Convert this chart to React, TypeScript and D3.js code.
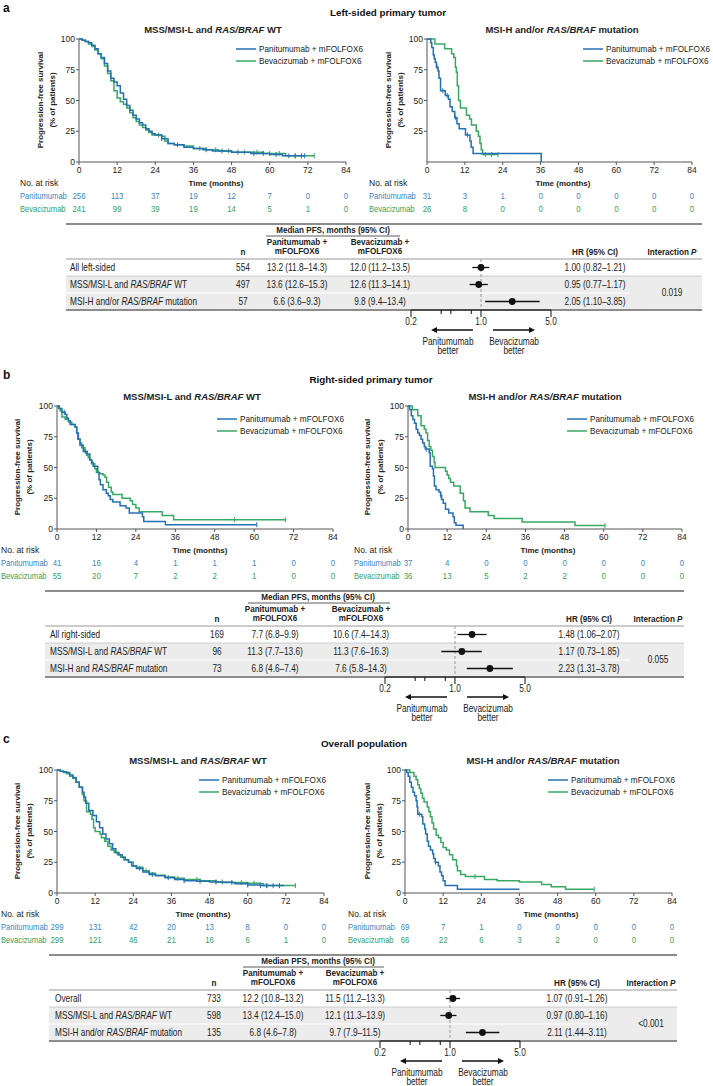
import React from 'react';
import * as d3 from 'd3';

type Pt = [number, number];

// ---------- shared ticks ----------
const timeTicks = [0, 12, 24, 36, 48, 60, 72, 84];
const survTicks = [0, 25, 50, 75, 100];
const hrMajor = [0.2, 1.0, 5.0];
const hrMinor = [0.4, 0.5, 0.8];

// ---------- Panel a: left-sided ----------
const aL_pan: Pt[] = [[0,100],[1,99],[2,98],[3,97],[4,95],[5,92],[6,88],[7,85],[8,80],[9,74],[10,68],[11,65],[12,62],[13,56],[14,51],[15,46],[16,42],[17,38],[18,35],[19,32],[20,30],[21,27],[22,25],[23,23],[24,22],[26,19],[28,15],[30,14],[33,12],[36,11],[39,10],[42,9],[48,8],[54,7],[60,6],[64,5],[71,5]];
const aL_bev: Pt[] = [[0,100],[1,99],[2,98],[3,96],[4,94],[5,91],[6,88],[7,84],[8,78],[9,72],[10,66],[11,58],[12,52],[13,49],[14,47],[15,44],[16,40],[17,36],[18,33],[19,30],[20,28],[21,26],[22,24],[23,22],[26,21],[27,17],[28,15],[30,14],[33,13],[36,11],[40,10],[44,9],[48,8],[58,7],[65,5],[74,5]];
const aL_panC = [26, 31, 40, 45, 50, 55, 58, 62, 66, 68, 70, 71];
const aL_bevC = [25, 38, 43, 47, 52, 56, 60, 63, 68, 74];
const aR_pan: Pt[] = [[0,100],[1.2,97],[1.5,93],[2,87],[2.3,84],[2.6,81],[3,77],[3.5,74],[3.8,68],[4.3,58],[5.8,54],[6.8,51],[7.3,45],[8,41],[8.8,36],[9.5,31],[10.2,27],[12.2,22],[13.6,17],[14,12],[14.6,7],[36.2,0]];
const aR_bev: Pt[] = [[0,100],[2.5,96],[5.6,92],[7.8,88],[8.5,85],[9,77],[9.3,73],[9.6,62],[10,50],[10.6,44],[12.5,38],[13.5,35],[14.1,30],[15.6,25],[16.3,21],[16.8,15],[17.2,10],[17.6,6],[22.5,6]];
const aR_panC = [3.2, 5, 6.4, 9.1, 12.8];
const aR_bevC = [18.5, 20.5, 22.5];
const aL_riskPan = [256, 113, 37, 19, 12, 7, 0, 0];
const aL_riskBev = [241, 99, 39, 19, 14, 5, 1, 0];
const aR_riskPan = [31, 3, 1, 0, 0, 0, 0, 0];
const aR_riskBev = [26, 8, 0, 0, 0, 0, 0, 0];
const aRows = ['All left-sided', 'MSS/MSI-L and *RAS/BRAF* WT', 'MSI-H and/or *RAS/BRAF* mutation'];
const aN = [554, 497, 57];
const aPanMed = ['13.2 (11.8–14.3)', '13.6 (12.6–15.3)', '6.6 (3.6–9.3)'];
const aBevMed = ['12.0 (11.2–13.5)', '12.6 (11.3–14.1)', '9.8 (9.4–13.4)'];
const aHR = [1.00, 0.95, 2.05];
const aLo = [0.82, 0.77, 1.10];
const aHi = [1.21, 1.17, 3.85];

// ---------- Panel b: right-sided ----------
const bL_pan: Pt[] = [[0,100],[0.7,98],[1.5,95],[2.5,93],[3,90],[3.5,88],[4,85],[5.5,83],[6,78],[6.5,73],[7,68],[8,63],[9.2,61],[10,56],[10.6,54],[11,51],[12.4,46],[12.8,40],[13.2,36],[14,32],[15,29],[15.6,27],[16.2,24],[17,22],[19.2,19],[21,17],[22,13],[26,10],[26.4,6],[33,3.5],[60.8,3.5]];
const bL_bev: Pt[] = [[0,100],[0.5,98],[1,96],[1.5,91],[2.5,89],[3.5,87],[4.5,85],[5.5,83],[6,78],[6.3,73],[7,70],[7.5,66],[8.5,63],[9,60],[9.5,58],[10,56],[10.5,53],[11.5,49],[12,46],[13,45],[14,44],[14.6,42],[15.1,38],[15.7,34],[16.5,30],[17,28],[19.8,25],[22.3,23],[23,20],[24,17],[25,14],[32,11],[35.5,7.5],[69.5,7.5]];
const bL_panC = [2.2, 8.6, 60.8];
const bL_bevC = [54, 69.5];
const bR_pan: Pt[] = [[0,100],[0.5,97],[1,92],[1.5,89],[2,86],[2.5,81],[3,78],[3.5,76],[4,73],[4.5,70],[5,67],[5.3,65],[6.5,62],[6.8,51],[7.5,49],[7.8,43],[8.1,35],[8.6,32],[9.5,30],[10,27],[10.3,24],[10.8,21],[11.5,16],[12.5,13],[13.8,10],[14.2,5],[14.7,3],[16.9,0]];
const bR_bev: Pt[] = [[0,100],[1.3,97],[3,92],[4,84],[5,81],[5.5,78],[6,72],[6.5,67],[7,64],[7.5,59],[8,54],[8.3,50],[11.5,47],[12,44],[12.5,41],[13,38],[14,35],[16,29],[17,23],[17.5,17],[19,14],[24.6,11],[26.4,8.5],[35,5.7],[51.2,2.8],[60.4,2.8]];
const bR_panC = [5.6, 10.1];
const bR_bevC = [60.4];
const bL_riskPan = [41, 16, 4, 1, 1, 1, 0, 0];
const bL_riskBev = [55, 20, 7, 2, 2, 1, 0, 0];
const bR_riskPan = [37, 4, 0, 0, 0, 0, 0, 0];
const bR_riskBev = [36, 13, 5, 2, 2, 0, 0, 0];
const bRows = ['All right-sided', 'MSS/MSI-L and *RAS/BRAF* WT', 'MSI-H and *RAS/BRAF* mutation'];
const bN = [169, 96, 73];
const bPanMed = ['7.7 (6.8–9.9)', '11.3 (7.7–13.6)', '6.8 (4.6–7.4)'];
const bBevMed = ['10.6 (7.4–14.3)', '11.3 (7.6–16.3)', '7.6 (5.8–14.3)'];
const bHR = [1.48, 1.17, 2.23];
const bLo = [1.06, 0.73, 1.31];
const bHi = [2.07, 1.85, 3.78];

// ---------- Panel c: overall ----------
const cL_pan: Pt[] = [[0,100],[1,99],[2,98.5],[3,98],[4,96],[5,94],[6,90],[7,86],[8,82],[8.5,78],[9,73],[10,67],[11.3,63],[12.4,58],[13.4,53],[14.4,48],[15.4,44],[16.5,40],[17.5,36],[18.5,33],[19.5,31],[20.5,29],[21.5,27],[22.5,25],[23.5,22],[25,20],[27,17],[29,15],[31,14],[34,12.5],[37,11],[40,10],[44,9.5],[48,9],[52,8.5],[56,7.5],[60,6.5],[64,6],[71.4,6]];
const cL_bev: Pt[] = [[0,100],[1,99],[2,98],[3,97],[4,95],[5,93],[6,90],[7,86],[8,80],[8.5,75],[9.3,66],[10.5,64],[11,60],[11.5,53],[12,50],[13.5,48],[14,45],[15,42],[16,38],[17,35],[18,33],[19,31],[20,29],[21,27],[22.5,25],[24,22],[25,21],[27,18],[29,16],[31,14.5],[34,13],[37,12],[40,11],[45,10],[50,9],[55,8.5],[60,8],[64,7.5],[65,6],[75,6]];
const cL_panC = [26, 30, 35, 40, 45, 50, 55, 60, 64, 66, 68, 70];
const cL_bevC = [28, 38, 44, 52, 58, 62, 66, 70, 75];
const cR_pan: Pt[] = [[0,100],[0.5,98],[1,95],[1.5,90],[2,86],[2.5,82],[3,79],[3.5,75],[3.8,70],[4,64],[5.3,62],[5.6,56],[6.2,52],[6.5,48],[7,42],[7.4,38],[8,35],[8.7,32],[9,28],[9.5,25],[10.5,22],[11,17],[11.5,14],[12,10],[12.6,6],[16.5,3],[36,3]];
const cR_bev: Pt[] = [[0,100],[1.5,98],[2.8,95],[3.5,92],[4,88],[4.5,85],[5,81],[5.5,77],[6,74],[7,70],[7.5,66],[8,62],[8.5,57],[9,52],[9.8,47],[10.5,45],[11.3,41],[12,37],[13,35],[14,31],[15,27],[16.2,22],[16.5,18],[17.5,15],[19,13.5],[25,11],[29,10],[36,9],[43,7],[46,5],[50.5,3],[59.5,3]];
const cR_panC = [4.5, 9.6];
const cR_bevC = [22, 59.5];
const cL_riskPan = [299, 131, 42, 20, 13, 8, 0, 0];
const cL_riskBev = [299, 121, 46, 21, 16, 6, 1, 0];
const cR_riskPan = [69, 7, 1, 0, 0, 0, 0, 0];
const cR_riskBev = [66, 22, 6, 3, 2, 0, 0, 0];
const cRows = ['Overall', 'MSS/MSI-L and *RAS/BRAF* WT', 'MSI-H and/or *RAS/BRAF* mutation'];
const cN = [733, 598, 135];
const cPanMed = ['12.2 (10.8–13.2)', '13.4 (12.4–15.0)', '6.8 (4.6–7.8)'];
const cBevMed = ['11.5 (11.2–13.3)', '12.1 (11.3–13.9)', '9.7 (7.9–11.5)'];
const cHR = [1.07, 0.97, 2.11];
const cLo = [0.91, 0.80, 1.44];
const cHi = [1.26, 1.16, 3.11];

const titleWT = 'MSS/MSI-L and *RAS/BRAF* WT';
const titleMut = 'MSI-H and/or *RAS/BRAF* mutation';
const legendLabels = ['Panitumumab + mFOLFOX6', 'Bevacizumab + mFOLFOX6'];

// ---------- styles ----------
const FONT = "'Liberation Sans', Arial, sans-serif";
const BLUE = '#2470b3';
const GREEN = '#38a865';
const BLUE_T = '#3a86c4';
const GREEN_T = '#34a060';
const AX = '#555';
const TXT = '#222';

const rich = (s: string) =>
  s.split('*').map((p, i) => (
    <tspan key={i} fontStyle={i % 2 ? 'italic' : undefined}>{p}</tspan>
  ));

// narrow text (condensed by horizontal scale)
function NT({ x, y, children, anchor = 'start', size = 10, weight = 'normal', fill = TXT, sx = 0.83 }: any) {
  return (
    <text transform={`translate(${x},${y}) scale(${sx},1)`} textAnchor={anchor} fontSize={size}
      fontWeight={weight} fill={fill} fontFamily={FONT}>{children}</text>
  );
}

const stepAt = (data: Pt[], t: number) => {
  let v = data[0][1];
  for (const [tt, s] of data) if (tt <= t) v = s;
  return v;
};

function KM(p: any) {
  const { T, x0, x1, pan, bev, panC, bevC, title, titleX, legX, legY, ylx, showY0,
    riskX, riskPan, riskBev, timeX } = p;
  const xs = d3.scaleLinear().domain([0, 84]).range([x0, x1]);
  const ys = d3.scaleLinear().domain([0, 100]).range([T + 123, T]);
  const line = d3.line<Pt>().x(d => xs(d[0])).y(d => ys(d[1])).curve(d3.curveStepAfter);
  const yT = showY0 ? survTicks : survTicks.filter(v => v > 0);
  const series = [
    { d: bev, c: bevC, col: GREEN },
    { d: pan, c: panC, col: BLUE },
  ];
  return (
    <g fontFamily={FONT}>
      <text x={titleX} y={T - 6} textAnchor="middle" fontSize={9.5} fontWeight="bold" fill={TXT}>{rich(title)}</text>
      {/* axes */}
      <line x1={x0} x2={x0} y1={T} y2={T + 123} stroke={AX} />
      <line x1={x0} x2={x1} y1={T + 123} y2={T + 123} stroke={AX} />
      {yT.map(v => (
        <g key={v}>
          <line x1={x0 - 3} x2={x0} y1={ys(v)} y2={ys(v)} stroke={AX} />
          <text x={x0 - 4} y={ys(v) + 3} textAnchor="end" fontSize={8.5} fill={TXT}>{v}</text>
        </g>
      ))}
      {timeTicks.map(v => (
        <g key={v}>
          <line x1={xs(v)} x2={xs(v)} y1={T + 123} y2={T + 126} stroke={AX} />
          <text x={xs(v)} y={T + 134} textAnchor="middle" fontSize={8.5} fill={TXT}>{v}</text>
        </g>
      ))}
      <text transform={`translate(${ylx[0]},${T + 61}) rotate(-90)`} textAnchor="middle" fontSize={8} fontWeight="bold" fill={TXT}>Progression-free survival</text>
      <text transform={`translate(${ylx[1]},${T + 61}) rotate(-90)`} textAnchor="middle" fontSize={8} fontWeight="bold" fill={TXT}>(% of patients)</text>
      <text x={timeX} y={T + 147} textAnchor="middle" fontSize={8} fontWeight="bold" fill={TXT}>Time (months)</text>
      {/* curves */}
      {series.map((s, i) => (
        <g key={i}>
          <path d={line(s.d) || ''} fill="none" stroke={s.col} strokeWidth={1.5} />
          {s.c.map((t: number, j: number) => (
            <line key={j} x1={xs(t)} x2={xs(t)} y1={ys(stepAt(s.d, t)) - 2.5} y2={ys(stepAt(s.d, t)) + 2.5} stroke={s.col} strokeWidth={1} />
          ))}
        </g>
      ))}
      {/* legend */}
      {legendLabels.map((l, i) => (
        <g key={l}>
          <line x1={legX} x2={legX + 20} y1={legY + i * 12} y2={legY + i * 12} stroke={i ? GREEN : BLUE} strokeWidth={1.5} />
          <text x={legX + 23} y={legY + i * 12 + 3} fontSize={8.2} fill={TXT}>{l}</text>
        </g>
      ))}
      {/* risk table */}
      <text x={riskX} y={T + 147} fontSize={8.5} fill={TXT}>No. at risk</text>
      <NT x={riskX} y={T + 160} size={9.5} sx={0.8} fill={BLUE_T}>Panitumumab</NT>
      <NT x={riskX} y={T + 173} size={9.5} sx={0.8} fill={GREEN_T}>Bevacizumab</NT>
      {riskPan.map((v: number, i: number) => (
        <NT key={'p' + i} x={xs(timeTicks[i])} y={T + 160} size={9.5} sx={0.82} anchor="middle" fill={BLUE_T}>{v}</NT>
      ))}
      {riskBev.map((v: number, i: number) => (
        <NT key={'b' + i} x={xs(timeTicks[i])} y={T + 173} size={9.5} sx={0.82} anchor="middle" fill={GREEN_T}>{v}</NT>
      ))}
    </g>
  );
}

function Forest(p: any) {
  const { T, tx0, tx1, labelX, nX, panX, bevX, hrX, intX, medX, medU, sepEnd, fx1, rows, ns, panMed, bevMed, hr, lo, hi, pInt } = p;
  const fs = d3.scaleLog().domain([0.2, 5]).range([fx1 - 70, fx1 + 70]);
  const rowTop = (i: number) => T + 220 + i * 17;
  const ay = T + 291;
  const H = 9;
  const HS = 0.9;
  return (
    <g fontFamily={FONT}>
      <rect x={tx0} y={rowTop(1)} width={tx1 - tx0} height={34} fill="#ececec" />
      <line x1={tx0} x2={tx1} y1={T + 185} y2={T + 185} stroke="#8c8c8c" strokeWidth={2} />
      <NT x={medX} y={T + 194} anchor="middle" weight="bold" size={H} sx={HS}>Median PFS, months (95% CI)</NT>
      <line x1={medU[0]} x2={medU[1]} y1={T + 197} y2={T + 197} stroke="#333" strokeWidth={0.8} />
      <NT x={panX} y={T + 206} anchor="middle" weight="bold" size={H} sx={HS}>Panitumumab +</NT>
      <NT x={panX} y={T + 215} anchor="middle" weight="bold" size={H} sx={HS}>mFOLFOX6</NT>
      <NT x={bevX} y={T + 206} anchor="middle" weight="bold" size={H} sx={HS}>Bevacizumab +</NT>
      <NT x={bevX} y={T + 215} anchor="middle" weight="bold" size={H} sx={HS}>mFOLFOX6</NT>
      <NT x={nX} y={T + 216} anchor="middle" weight="bold" size={H} sx={HS}>n</NT>
      <NT x={hrX} y={T + 216} anchor="middle" weight="bold" size={H} sx={HS}>HR (95% CI)</NT>
      <NT x={intX} y={T + 216} anchor="middle" weight="bold" size={H} sx={HS}>Interaction <tspan fontStyle="italic">P</tspan></NT>
      <line x1={tx0} x2={tx1} y1={T + 220} y2={T + 220} stroke="#999" strokeWidth={1} />
      <line x1={tx0} x2={tx1} y1={rowTop(1)} y2={rowTop(1)} stroke="#c4c4c4" strokeWidth={0.8} />
      <line x1={tx0} x2={sepEnd} y1={rowTop(2)} y2={rowTop(2)} stroke="#ffffff" strokeWidth={1.2} />
      <line x1={tx0} x2={tx1} y1={T + 271} y2={T + 271} stroke="#8c8c8c" strokeWidth={2} />
      <line x1={fx1} x2={fx1} y1={T + 220} y2={T + 271} stroke="#999" strokeWidth={1} strokeDasharray="3,2" />
      {rows.map((r: string, i: number) => {
        const cy = rowTop(i) + 8.5;
        return (
          <g key={i}>
            <NT x={labelX} y={cy + 3.4}>{rich(r)}</NT>
            <NT x={nX} y={cy + 3.4} anchor="middle">{ns[i]}</NT>
            <NT x={panX} y={cy + 3.4} anchor="middle">{panMed[i]}</NT>
            <NT x={bevX} y={cy + 3.4} anchor="middle">{bevMed[i]}</NT>
            <NT x={hrX} y={cy + 3.4} anchor="middle">{`${hr[i].toFixed(2)} (${lo[i].toFixed(2)}–${hi[i].toFixed(2)})`}</NT>
            <line x1={fs(lo[i])} x2={fs(hi[i])} y1={cy} y2={cy} stroke="#111" strokeWidth={1.3} />
            <circle cx={fs(hr[i])} cy={cy} r={3.4} fill="#111" />
          </g>
        );
      })}
      <NT x={intX} y={rowTop(2) + 3.4} anchor="middle">{pInt}</NT>
      {/* axis */}
      <line x1={fs(0.2)} x2={fs(5)} y1={T + 271} y2={T + 271} stroke="#111" strokeWidth={1} />
      {hrMajor.map(v => (
        <g key={v}>
          <line x1={fs(v)} x2={fs(v)} y1={T + 271} y2={T + 278} stroke="#111" />
          <NT x={fs(v)} y={T + 286} anchor="middle">{v.toFixed(1)}</NT>
        </g>
      ))}
      {hrMinor.map(v => (
        <line key={v} x1={fs(v)} x2={fs(v)} y1={T + 271} y2={T + 275} stroke="#111" />
      ))}
      <line x1={fx1 - 8} x2={fx1 - 45} y1={ay} y2={ay} stroke="#111" strokeWidth={1.5} />
      <polygon points={`${fx1 - 50},${ay} ${fx1 - 44},${ay - 3} ${fx1 - 44},${ay + 3}`} fill="#111" />
      <line x1={fx1 + 12} x2={fx1 + 49} y1={ay} y2={ay} stroke="#111" strokeWidth={1.5} />
      <polygon points={`${fx1 + 54},${ay} ${fx1 + 48},${ay - 3} ${fx1 + 48},${ay + 3}`} fill="#111" />
      <NT x={fx1 - 33} y={T + 306} anchor="middle">Panitumumab</NT>
      <NT x={fx1 - 33} y={T + 315} anchor="middle">better</NT>
      <NT x={fx1 + 33} y={T + 306} anchor="middle">Bevacizumab</NT>
      <NT x={fx1 + 33} y={T + 315} anchor="middle">better</NT>
    </g>
  );
}

function Panel(p: any) {
  const { T, letter, section, sectionX, left, right, forest } = p;
  return (
    <g>
      <text x={3} y={T - 27} fontSize={12} fontWeight="bold" fontFamily={FONT} fill="#111">{letter}</text>
      <text x={sectionX} y={T - 23} textAnchor="middle" fontSize={9.8} fontWeight="bold" fontFamily={FONT} fill="#111">{section}</text>
      <KM T={T} {...left} />
      <KM T={T} {...right} />
      <Forest T={T} {...forest} />
    </g>
  );
}

export default function App() {
  const panels = [
    {
      T: 39, letter: 'a', section: 'Left-sided primary tumor', sectionX: 388,
      left: { x0: 79, x1: 346, pan: aL_pan, bev: aL_bev, panC: aL_panC, bevC: aL_bevC, title: titleWT, titleX: 213, legX: 236, legY: 49, ylx: [43, 55], showY0: true, riskX: 20, riskPan: aL_riskPan, riskBev: aL_riskBev, timeX: 216 },
      right: { x0: 427, x1: 692, pan: aR_pan, bev: aR_bev, panC: aR_panC, bevC: aR_bevC, title: titleMut, titleX: 562, legX: 583, legY: 49, ylx: [391, 403], showY0: false, riskX: 369, riskPan: aR_riskPan, riskBev: aR_riskBev, timeX: 563 },
      forest: { tx0: 66, tx1: 702, labelX: 70, nX: 243, panX: 297, bevX: 380, hrX: 595, intX: 672, medX: 333, medU: [266, 400], sepEnd: 630, fx1: 481, rows: aRows, ns: aN, panMed: aPanMed, bevMed: aBevMed, hr: aHR, lo: aLo, hi: aHi, pInt: '0.019' },
    },
    {
      T: 406, letter: 'b', section: 'Right-sided primary tumor', sectionX: 371,
      left: { x0: 57, x1: 333, pan: bL_pan, bev: bL_bev, panC: bL_panC, bevC: bL_bevC, title: titleWT, titleX: 192, legX: 217, legY: 419, ylx: [20, 32], showY0: true, riskX: 1, riskPan: bL_riskPan, riskBev: bL_riskBev, timeX: 200 },
      right: { x0: 408, x1: 682, pan: bR_pan, bev: bR_bev, panC: bR_panC, bevC: bR_bevC, title: titleMut, titleX: 545, legX: 567, legY: 419, ylx: [370, 383], showY0: true, riskX: 354, riskPan: bR_riskPan, riskBev: bR_riskBev, timeX: 548 },
      forest: { tx0: 45, tx1: 684, labelX: 50, nX: 217, panX: 275, bevX: 361, hrX: 589, intX: 658, medX: 318, medU: [248, 390], sepEnd: 630, fx1: 455, rows: bRows, ns: bN, panMed: bPanMed, bevMed: bBevMed, hr: bHR, lo: bLo, hi: bHi, pInt: '0.055' },
    },
    {
      T: 770, letter: 'c', section: 'Overall population', sectionX: 364,
      left: { x0: 57, x1: 324, pan: cL_pan, bev: cL_bev, panC: cL_panC, bevC: cL_bevC, title: titleWT, titleX: 198, legX: 199, legY: 780, ylx: [20, 32], showY0: true, riskX: 1, riskPan: cL_riskPan, riskBev: cL_riskBev, timeX: 203 },
      right: { x0: 405, x1: 672, pan: cR_pan, bev: cR_bev, panC: cR_panC, bevC: cR_bevC, title: titleMut, titleX: 543, legX: 548, legY: 780, ylx: [370, 382], showY0: true, riskX: 348, riskPan: cR_riskPan, riskBev: cR_riskBev, timeX: 551 },
      forest: { tx0: 49, tx1: 677, labelX: 55, nX: 214, panX: 273, bevX: 355, hrX: 577, intX: 651, medX: 318, medU: [243, 384], sepEnd: 609, fx1: 450, rows: cRows, ns: cN, panMed: cPanMed, bevMed: cBevMed, hr: cHR, lo: cLo, hi: cHi, pInt: '<0.001' },
    },
  ];
  return (
    <svg width={713} height={1086} viewBox="0 0 713 1086"
      style={{ position: 'absolute', left: 0, top: 0, display: 'block', background: '#fff' }}>
      <rect x={0} y={0} width={713} height={1086} fill="#fff" />
      {panels.map(p => <Panel key={p.letter} {...p} />)}
    </svg>
  );
}
